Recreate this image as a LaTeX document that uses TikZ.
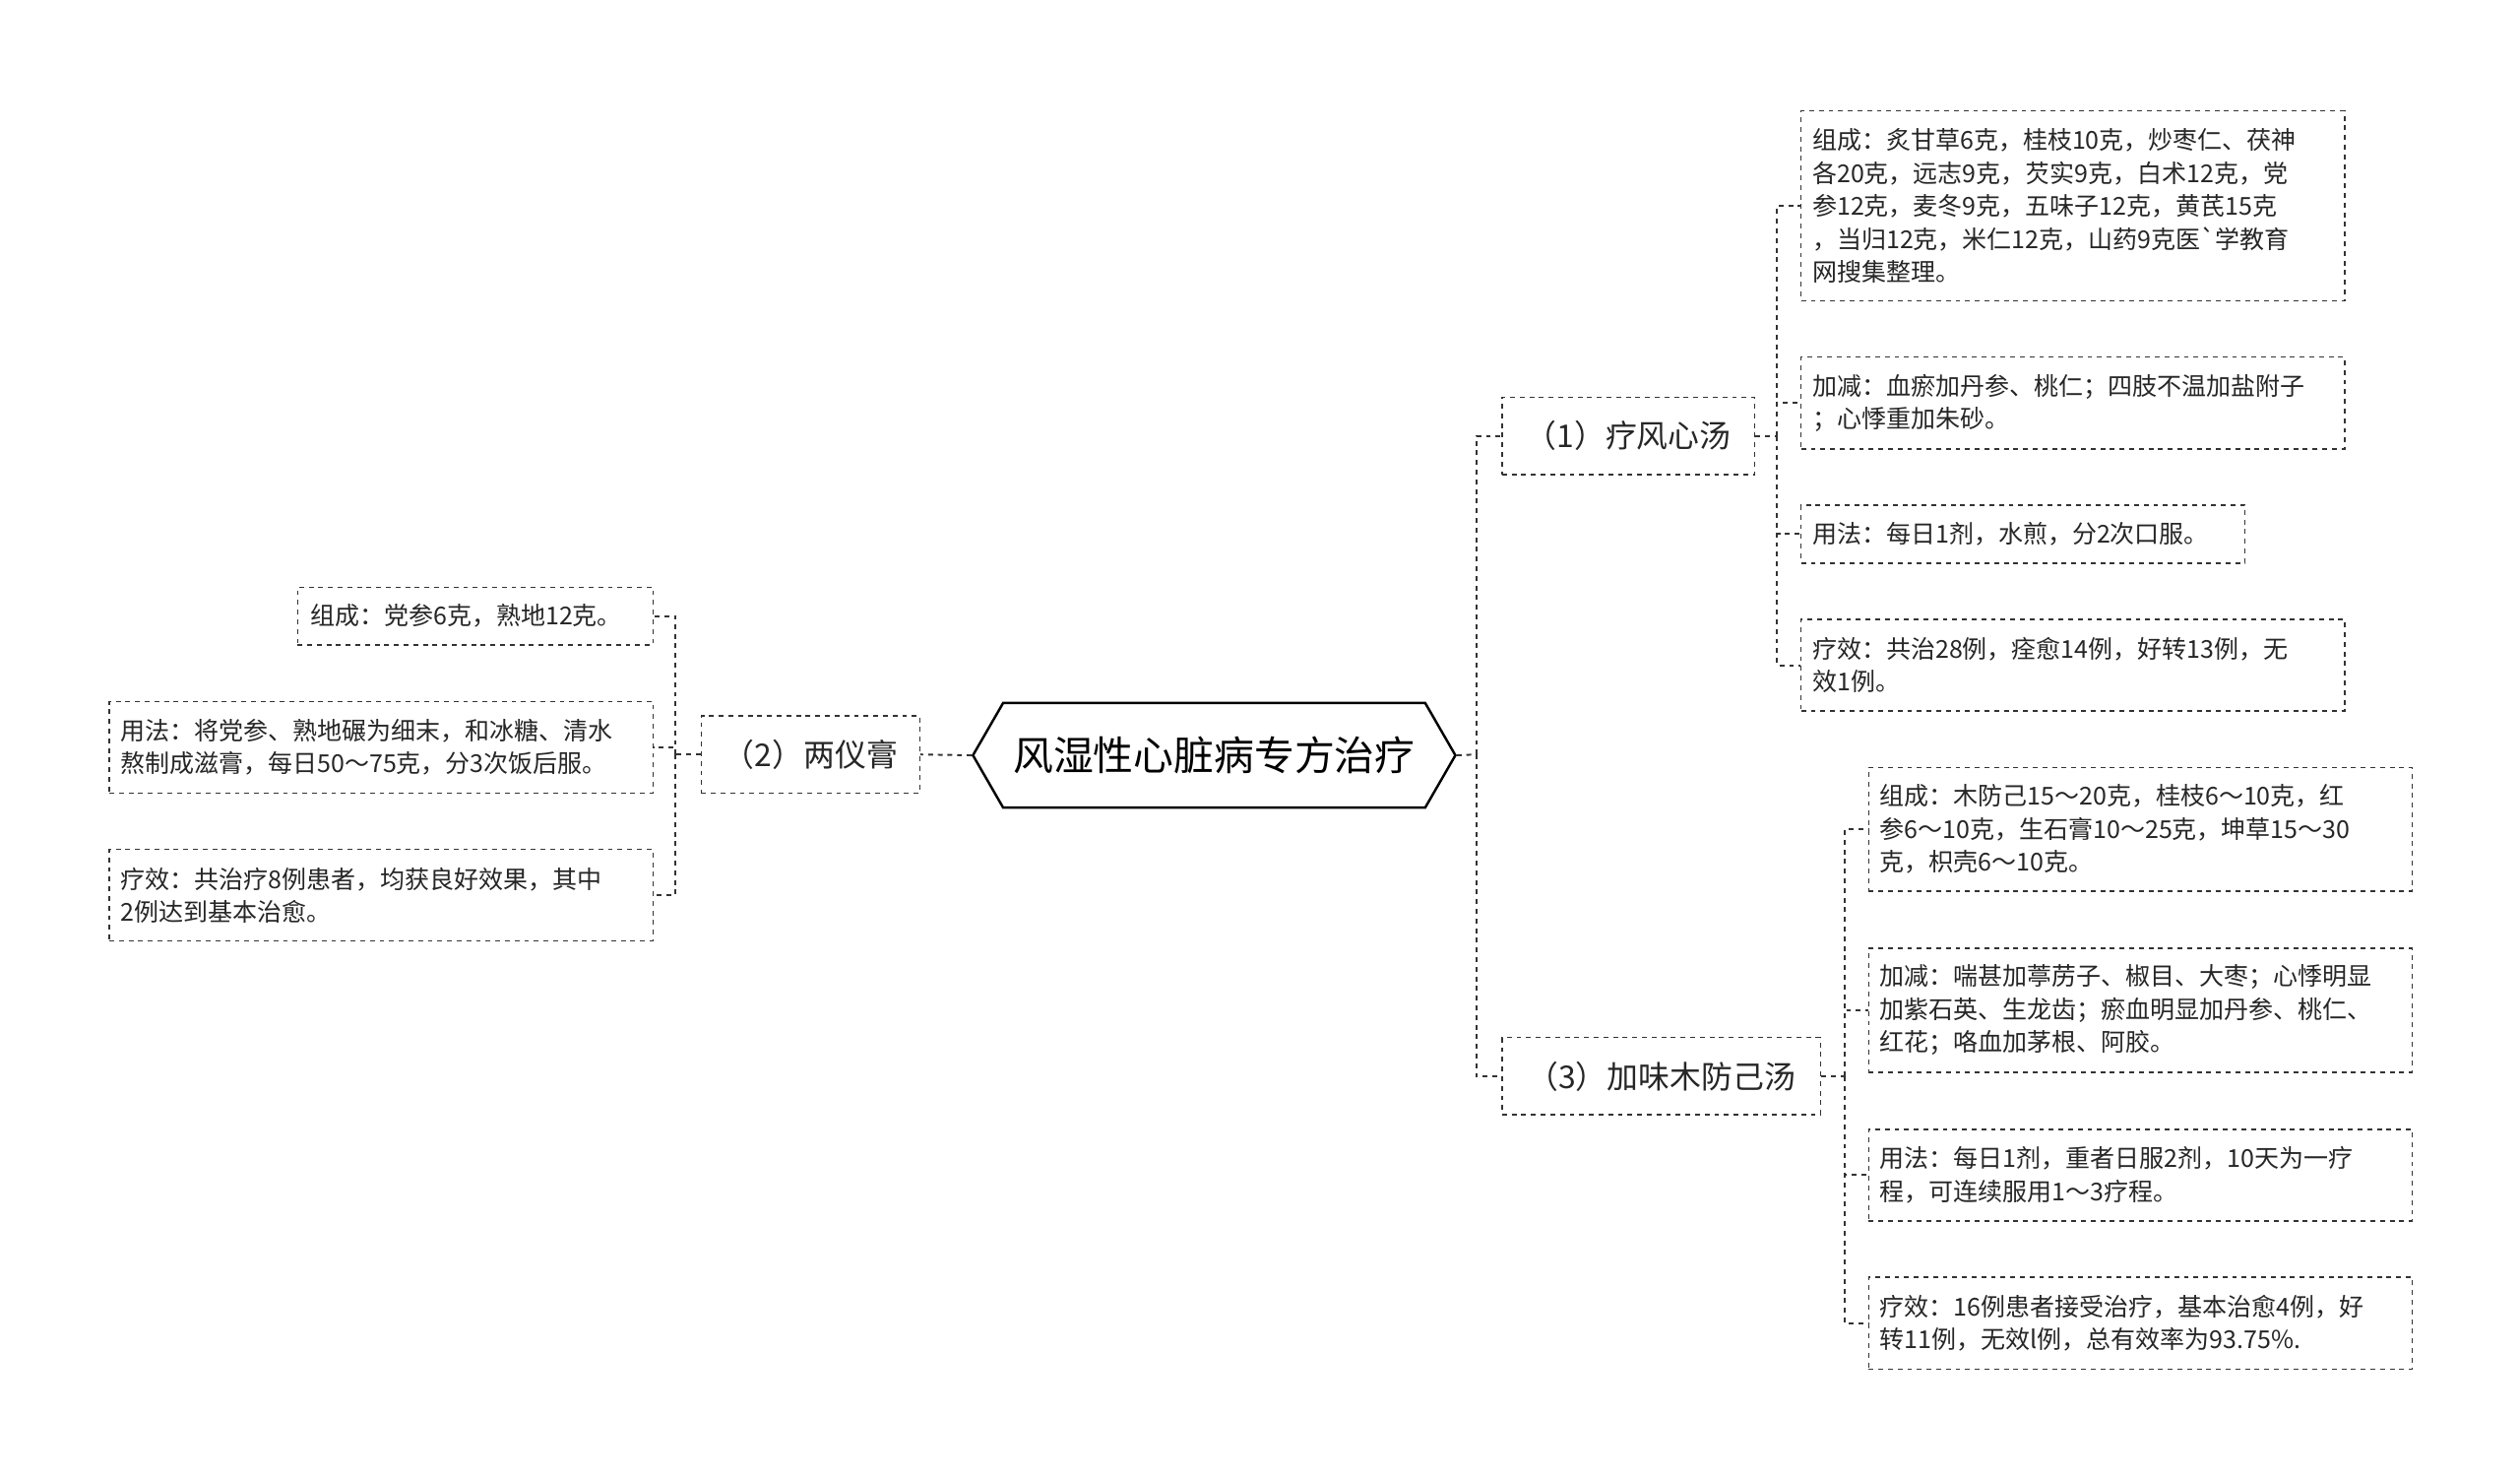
\documentclass[tikz,border=0pt]{standalone}
\usepackage{fontspec}
\newfontfamily\cjk{Noto Sans CJK SC}
\usetikzlibrary{shapes.symbols}
\begin{document}
\begin{tikzpicture}[x=1pt,y=-1pt,
 leaf/.style={draw=black!80,dashed,line width=0.9pt,font=\cjk\fontsize{15.3}{20.5}\selectfont,align=left,inner sep=0pt,text=black!85},
 mid/.style={draw=black!80,dashed,line width=0.9pt,font=\cjk\fontsize{19.5}{22}\selectfont,inner sep=0pt,text=black!85},
 conn/.style={draw=black!80,dashed,line width=1.2pt}]
\useasboundingbox (0,0) rectangle (1567,919.4);
\node[draw=black,line width=1.5pt,signal,signal to=east and west,signal pointer angle=120,minimum width=300,minimum height=65,inner sep=0pt,font=\cjk\fontsize{25}{28}\selectfont] (c) at (755,469.5) {风湿性心脏病专方治疗};
% mid nodes
\node[mid,minimum width=136,minimum height=48] (n2) at (504,469) {（2）两仪膏};
\node[mid,minimum width=157,minimum height=48] (n1) at (1012.5,271) {（1）疗风心汤};
\node[mid,minimum width=198,minimum height=48] (n3) at (1033,669) {（3）加味木防己汤};
% left leaves
\node[leaf,minimum width=221,minimum height=36,text width=205] (l1) at (295.5,383) {组成：党参6克，熟地12克。};
\node[leaf,minimum width=338,minimum height=57,text width=324] (l2) at (237,464.5) {用法：将党参、熟地碾为细末，和冰糖、清水\\熬制成滋膏，每日50～75克，分3次饭后服。};
\node[leaf,minimum width=338,minimum height=57,text width=324] (l3) at (237,556.5) {疗效：共治疗8例患者，均获良好效果，其中\\2例达到基本治愈。};
% right (1) leaves
\node[leaf,minimum width=338,minimum height=118,text width=324] (r1) at (1289,128) {组成：炙甘草6克，桂枝10克，炒枣仁、茯神\\各20克，远志9克，芡实9克，白术12克，党\\参12克，麦冬9克，五味子12克，黄芪15克\\，当归12克，米仁12克，山药9克医`学教育\\网搜集整理。};
\node[leaf,minimum width=338,minimum height=57,text width=324] (r2) at (1289,250.5) {加减：血瘀加丹参、桃仁；四肢不温加盐附子\\；心悸重加朱砂。};
\node[leaf,minimum width=276,minimum height=36,text width=262] (r3) at (1258,332) {用法：每日1剂，水煎，分2次口服。};
\node[leaf,minimum width=338,minimum height=57,text width=324] (r4) at (1289,413.5) {疗效：共治28例，痊愈14例，好转13例，无\\效1例。};
% right (3) leaves
\node[leaf,minimum width=338,minimum height=77,text width=324] (s1) at (1331,515.5) {组成：木防己15～20克，桂枝6～10克，红\\参6～10克，生石膏10～25克，坤草15～30\\克，枳壳6～10克。};
\node[leaf,minimum width=338,minimum height=77,text width=324] (s2) at (1331,628) {加减：喘甚加葶苈子、椒目、大枣；心悸明显\\加紫石英、生龙齿；瘀血明显加丹参、桃仁、\\红花；咯血加茅根、阿胶。};
\node[leaf,minimum width=338,minimum height=57,text width=324] (s3) at (1331,730.5) {用法：每日1剂，重者日服2剂，10天为一疗\\程，可连续服用1～3疗程。};
\node[leaf,minimum width=338,minimum height=57,text width=324] (s4) at (1331,822.5) {疗效：16例患者接受治疗，基本治愈4例，好\\转11例，无效l例，总有效率为93.75\%.};
% connectors
\coordinate (bc) at (918,469);
\draw[conn] (c.east) -- (bc);
\draw[conn] (bc) |- (n1.west);
\draw[conn] (bc) |- (n3.west);
\draw[conn] (c.west) -- (n2.east);
\coordinate (bl) at (420,469);
\draw[conn] (n2.west) -- (bl);
\foreach \t in {l1,l2,l3} \draw[conn] (bl) |- (\t.east);
\coordinate (b1) at (1105,271);
\draw[conn] (n1.east) -- (b1);
\foreach \t in {r1,r2,r3,r4} \draw[conn] (b1) |- (\t.west);
\coordinate (b3) at (1147,669);
\draw[conn] (n3.east) -- (b3);
\foreach \t in {s1,s2,s3,s4} \draw[conn] (b3) |- (\t.west);
\end{tikzpicture}
\end{document}
